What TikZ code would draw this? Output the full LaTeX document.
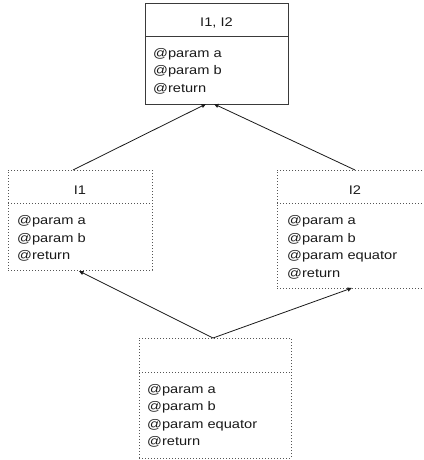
\documentclass[tikz,border=0pt]{standalone}
\usepackage{fontspec}
\setmainfont{Liberation Sans}[FakeStretch=1.17]
\usetikzlibrary{arrows.meta,calc}
\definecolor{ink}{HTML}{1A1A1A}
\definecolor{frame}{HTML}{3A3A3A}
\definecolor{dotline}{HTML}{555555}
\newcommand{\bodylines}[1]{\vtop{\baselineskip=17.5pt\lineskiplimit=-10pt #1}}
\tikzset{
  box/.style={rectangle, inner sep=0pt, outer sep=0pt, anchor=north west},
  solidbox/.style={box, draw=frame, line width=0.9pt},
  dotbox/.style={box, draw=dotline, line width=0.8pt, dash pattern=on 0.9pt off 2.1pt},
  soliddiv/.style={draw=frame, line width=0.9pt},
  dotdiv/.style={draw=dotline, line width=0.8pt, dash pattern=on 0.9pt off 2.1pt},
  title/.style={inner sep=0pt, anchor=base, text=ink},
  body/.style={inner sep=0pt, anchor=base west, text=ink},
  arr/.style={draw=ink, line width=0.8pt, -{Triangle[length=4.5pt,width=4pt]}},
}
\begin{document}
\begin{tikzpicture}[x=1pt,y=-1pt,font=\fontsize{12.5}{17.5}\selectfont]
\useasboundingbox (0,0) rectangle (423,460);
\clip (0,0) rectangle (423,460);

% merged interface
\node[solidbox, minimum width=143pt, minimum height=101pt] (top) at (145,3) {};
\draw[soliddiv] (top.west |- 0,36) -- (top.east |- 0,36);
\node[title] (toptitle) at (216.5,27) {I1, I2};
\node[body] (topbody) at (153,57) {\bodylines{\hbox{@param a}\hbox{@param b}\hbox{@return}}};

% interface I1
\node[dotbox, minimum width=144pt, minimum height=100pt] (ione) at (8,170) {};
\draw[dotdiv] (ione.west |- 0,203) -- (ione.east |- 0,203);
\node[title] (ionetitle) at (80,194) {I1};
\node[body] (ionebody) at (17,224.5) {\bodylines{\hbox{@param a}\hbox{@param b}\hbox{@return}}};

% interface I2
\node[dotbox, minimum width=156pt, minimum height=118pt] (itwo) at (277,170) {};
\draw[dotdiv] (itwo.west |- 0,203) -- (itwo.east |- 0,203);
\node[title] (itwotitle) at (355,194) {I2};
\node[body] (itwobody) at (287,224.5) {\bodylines{\hbox{@param a}\hbox{@param b}\hbox{@param equator}\hbox{@return}}};

% implementing class
\node[dotbox, minimum width=152pt, minimum height=120pt] (impl) at (139,338) {};
\draw[dotdiv] (impl.west |- 0,372) -- (impl.east |- 0,372);
\node[body] (implbody) at (147,393) {\bodylines{\hbox{@param a}\hbox{@param b}\hbox{@param equator}\hbox{@return}}};

% generalisation arrows
\coordinate (topinL) at ($(top.south west)+(61,0)$);
\coordinate (topinR) at ($(top.south west)+(69,0)$);
\coordinate (ioneout) at ($(ione.north west)+(65,0)$);
\coordinate (itwoout) at ($(itwo.north west)+(78,0)$);
\coordinate (ionein) at ($(ione.south west)+(71,1)$);
\coordinate (itwoin) at ($(itwo.south west)+(75,0)$);
\coordinate (implout) at ($(impl.north west)+(74,0)$);
\draw[arr] (ioneout) -- (topinL);
\draw[arr] (itwoout) -- (topinR);
\draw[arr] (implout) -- (ionein);
\draw[arr] (implout) -- (itwoin);
\end{tikzpicture}
\end{document}
